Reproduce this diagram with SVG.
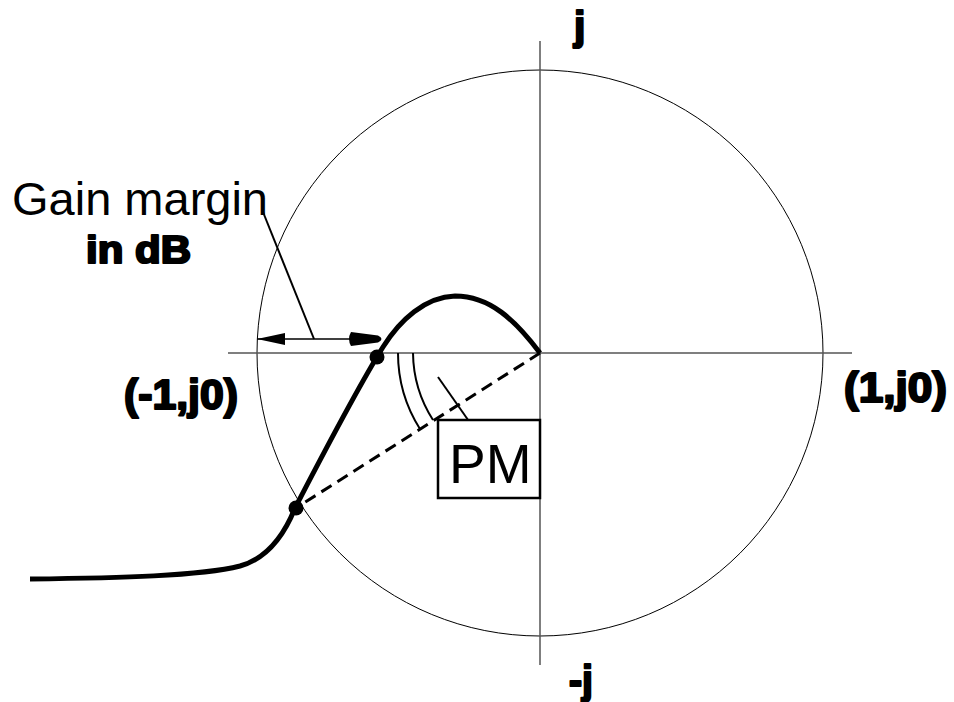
<svg xmlns="http://www.w3.org/2000/svg" width="954" height="702" viewBox="0 0 954 702">
<style>
.axis{stroke:#555;stroke-width:1.5;fill:none}
.thin{stroke:#000;stroke-width:1;fill:none}
.curve{stroke:#000;stroke-width:5;fill:none;stroke-linejoin:round}
.lead{stroke:#000;stroke-width:2;fill:none}
.bold{font-family:"Liberation Sans",Arial,sans-serif;font-weight:bold;fill:#000;stroke:#000;stroke-width:2.2;stroke-linejoin:round}
.reg{font-family:"Liberation Sans",Arial,sans-serif;fill:#000}
</style>
<rect width="954" height="702" fill="#fff"/>
<g id="plane">
<circle cx="540" cy="353" r="283" class="thin"/>
<line x1="228" y1="353" x2="852" y2="353" class="axis"/>
<line x1="540" y1="41" x2="540" y2="665" class="axis"/>
</g>
<g id="nyquist-curve">
<path class="curve" d="M30,579 C120,578 200,576 240,566 C265,559 283,538 295,508 C320,460 355,392 383,347 C400,320 425,297 455,296 C490,296 515,320 540,353"/>
<circle cx="377" cy="357" r="7.5"/>
<circle cx="296" cy="508" r="7.5"/>
</g>
<g id="connectors">
<line x1="540" y1="353" x2="296" y2="508" stroke="#000" stroke-width="3" stroke-dasharray="12,7"/>
<line x1="257" y1="339" x2="352" y2="339" stroke="#000" stroke-width="1.5"/>
<polygon points="257,339 285,333 285,345" fill="#000"/>
<path d="M351,332 Q347,339 351,346 L378,342.5 Q385,339 378,335.5 Z" fill="#000"/>
<line x1="263" y1="212" x2="314" y2="339" class="lead"/>
<path d="M398,353 A142,142 0 0 0 420,429" class="lead"/>
<path d="M413,353 A127,127 0 0 0 433,420" class="lead"/>
<line x1="438" y1="377" x2="473" y2="427" class="lead"/>
</g>
<g id="pm-box">
<rect x="438" y="420" width="102" height="78" fill="#fff" stroke="#000" stroke-width="2.5"/>
<text x="449" y="483" class="reg" font-size="55">PM</text>
</g>
<g id="labels">
<text x="12" y="215" class="reg" font-size="47">Gain margin</text>
<text x="86" y="263" class="bold" font-size="38" textLength="105" lengthAdjust="spacingAndGlyphs">in dB</text>
<text x="574" y="40" class="bold" font-size="41">j</text>
<text x="569" y="694" class="bold" font-size="41" textLength="24" lengthAdjust="spacingAndGlyphs">-j</text>
<text x="844" y="402" class="bold" font-size="42" textLength="103" lengthAdjust="spacingAndGlyphs">(1,j0)</text>
<text x="124" y="409" class="bold" font-size="42" textLength="114" lengthAdjust="spacingAndGlyphs">(-1,j0)</text>
</g>
</svg>
